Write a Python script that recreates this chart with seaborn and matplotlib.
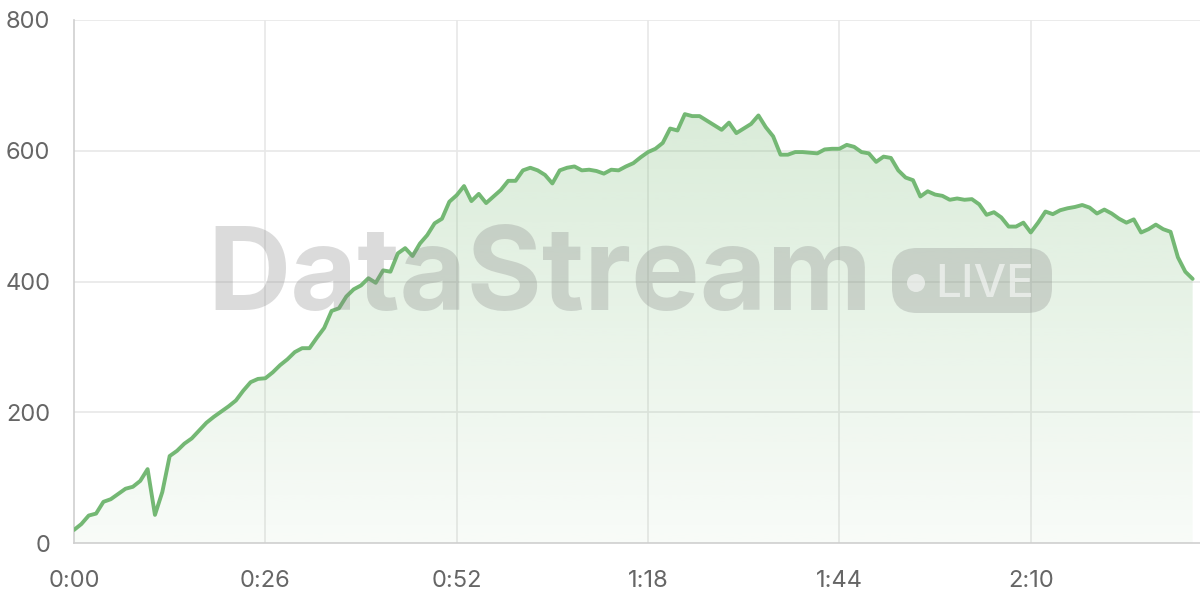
import matplotlib
matplotlib.use("Agg")
import matplotlib.pyplot as plt
from matplotlib.patches import FancyBboxPatch, Circle
from matplotlib.ticker import FuncFormatter
import numpy as np
import pandas as pd
import seaborn as sns

# Viewers per second of the stream
seconds = list(range(153))
viewers = [
    20, 29, 42, 45, 63, 67, 75, 83, 86, 95,
    113, 43, 78, 133, 141, 152, 160, 172, 184, 193,
    201, 209, 218, 233, 246, 251, 252, 261, 272, 281,
    292, 298, 298, 314, 329, 355, 359, 377, 388, 394,
    405, 398, 417, 415, 443, 451, 439, 458, 471, 489,
    496, 522, 532, 546, 523, 534, 520, 530, 540, 554,
    554, 570, 574, 570, 563, 550, 570, 574, 576, 570,
    571, 569, 565, 571, 570, 576, 581, 590, 598, 603,
    612, 634, 631, 656, 653, 653, 646, 639, 632, 643,
    627, 634, 641, 654, 636, 622, 594, 594, 598, 598,
    597, 596, 602, 603, 603, 609, 606, 598, 596, 583,
    591, 589, 570, 559, 555, 530, 538, 533, 531, 525,
    527, 525, 526, 518, 502, 506, 498, 484, 484, 490,
    475, 490, 507, 503, 509, 512, 514, 517, 513, 504,
    510, 504, 496, 490, 495, 475, 480, 487, 480, 476,
    437, 415, 404,
]
x_ticks = [0, 26, 52, 78, 104, 130]
y_ticks = [0, 200, 400, 600, 800]

df = pd.DataFrame({"t": seconds, "viewers": viewers})

sns.set_theme(style="white")
plt.rcParams["font.family"] = ["Inter", "DejaVu Sans"]

line_color = "#74b874"
grid_color = "#e8e8e8"
axis_color = "#cfcfcf"
label_color = "#666666"

fig = plt.figure(figsize=(12, 6), dpi=100)
ax = fig.add_axes([74 / 1200, 57 / 600, 1126 / 1200, 523 / 600])

# grid under everything
for v in y_ticks[1:]:
    ax.axhline(v, color=grid_color, lw=1.2, zorder=0)
for v in x_ticks[1:]:
    ax.axvline(v, color=grid_color, lw=1.2, zorder=0)

# gradient fill under the line
poly = ax.fill_between(df["t"], df["viewers"], 0, color="none", lw=0)
alpha = np.linspace(0.05, 0.32, 256).reshape(-1, 1)
rgba = np.zeros((256, 1, 4))
rgba[..., 0] = 118 / 255
rgba[..., 1] = 185 / 255
rgba[..., 2] = 115 / 255
rgba[..., 3] = alpha
im = ax.imshow(rgba, extent=[0, max(seconds), 0, 800], origin="lower",
               aspect="auto", zorder=1, interpolation="bilinear")
im.set_clip_path(poly.get_paths()[0], transform=ax.transData)

sns.lineplot(data=df, x="t", y="viewers", ax=ax, color=line_color,
             lw=2.8, zorder=3)

ax.set_xlim(0, 153)
ax.set_ylim(0, 800)
ax.set_xticks(x_ticks)
ax.set_yticks(y_ticks)
ax.xaxis.set_major_formatter(FuncFormatter(lambda v, p: f"{int(v) // 60}:{int(v) % 60:02d}"))
ax.set_xlabel("")
ax.set_ylabel("")

for side in ["top", "right"]:
    ax.spines[side].set_visible(False)
for side in ["left", "bottom"]:
    ax.spines[side].set_color(axis_color)
    ax.spines[side].set_linewidth(1.2)
    ax.spines[side].set_zorder(2)

ax.tick_params(axis="y", length=11.5, width=1.2, color=grid_color, pad=5.5,
               labelsize=17, labelcolor=label_color)
ax.tick_params(axis="x", length=7.2, width=1.2, color=grid_color, pad=12,
               labelsize=17, labelcolor=label_color)
ax.set_facecolor("white")

# watermark
wm = dict(color="#808080", alpha=0.28)
fig.text(5.40, 2.90, "DataStream", transform=fig.dpi_scale_trans,
         ha="center", va="baseline", fontsize=83, fontweight="bold",
         zorder=10, **wm)
box = FancyBboxPatch((8.92, 2.87), 1.60, 0.65,
                     boxstyle="round,pad=0,rounding_size=0.25",
                     transform=fig.dpi_scale_trans, facecolor="#808080",
                     edgecolor="none", alpha=0.28, zorder=10)
fig.patches.append(box)
fig.patches.append(Circle((9.16, 3.17), 0.09, transform=fig.dpi_scale_trans,
                          facecolor="white", edgecolor="none", alpha=0.55,
                          zorder=11))
fig.text(9.35, 3.03, "LIVE", transform=fig.dpi_scale_trans, ha="left",
         va="baseline", fontsize=33, fontweight="medium", color="white",
         alpha=0.55, zorder=11)

fig.savefig("out.png", dpi=100)
